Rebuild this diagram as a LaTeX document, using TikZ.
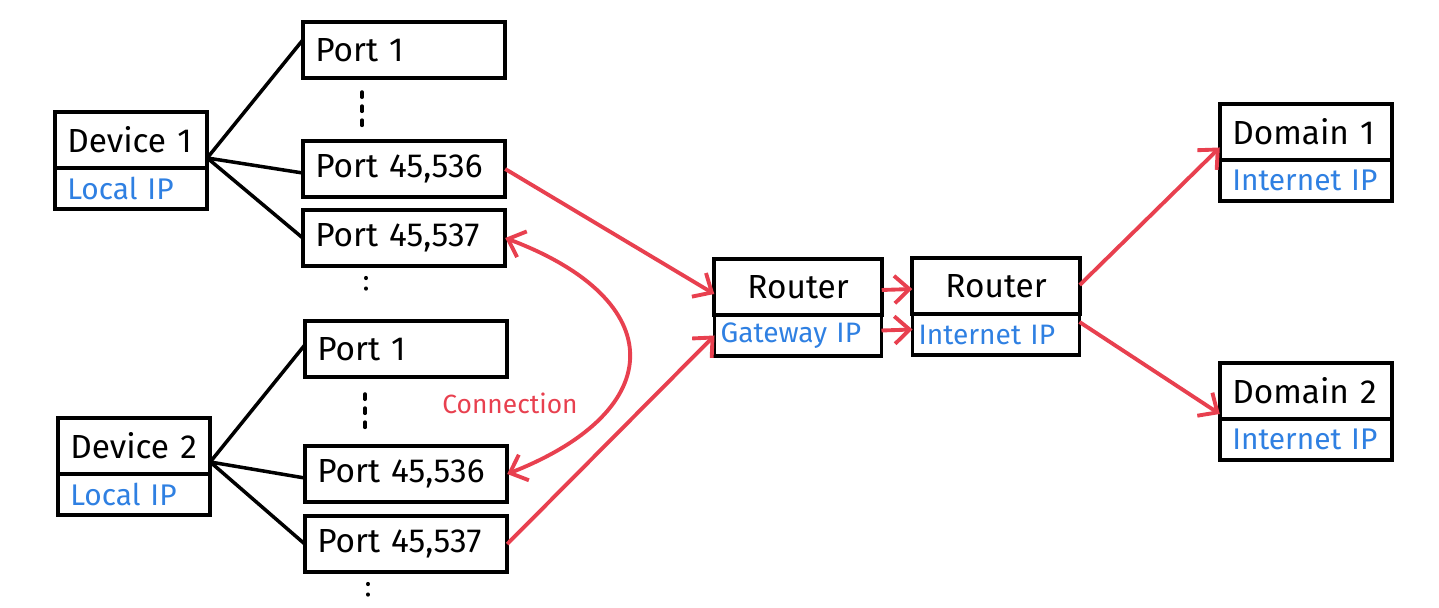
\documentclass[tikz,border=0pt]{standalone}
\usepackage{fontspec}
\setmainfont{Fira Sans}
\usetikzlibrary{arrows.meta}
\definecolor{netred}{HTML}{E8404F}
\definecolor{ipblue}{HTML}{2F80E2}
\newcommand{\boxfont}{\fontsize{19}{22}\selectfont}
\newcommand{\ipfont}{\fontsize{17}{20}\selectfont}
\tikzset{
  box/.style={draw, line width=2.2pt, outer sep=0pt, inner xsep=0.25cm,
    minimum height=1.12cm, align=left, font=\boxfont},
  portbox/.style={box, text width=3.55cm, minimum height=1.12cm},
  titlebox/.style={box, text width=2.55cm},
  ipbox/.style={box, minimum height=0.82cm, font=\ipfont, text=ipblue, anchor=north},
  link/.style={line width=2pt},
  flow/.style={line width=2.2pt, draw=netred, -{Straight Barb[length=3mm,width=5.5mm]}},
  vdots/.style={line width=2pt, line cap=round, dash pattern=on 3pt off 5pt},
  dotpair/.style={line width=2.4pt, line cap=round, dash pattern=on 0.01pt off 6pt}
}
\begin{document}
\begin{tikzpicture}[x=0.02cm, y=-0.02cm]
  \useasboundingbox (0,0) rectangle (1439,608);
  % device 1 and its ports
  \node[titlebox] (dev1) at (131,140) {Device 1};
  \node[ipbox, text width=2.55cm] (dev1ip) at (dev1.south) {Local IP};
  \node[portbox] (p11) at (404,50) {Port 1};
  \node[portbox] (p12) at (404,169) {Port 45,536};
  \node[portbox] (p13) at (404,238) {Port 45,537};
  % device 2 and its ports
  \node[titlebox] (dev2) at (134,446) {Device 2};
  \node[ipbox, text width=2.55cm] (dev2ip) at (dev2.south) {Local IP};
  \node[portbox] (p21) at (406,349) {Port 1};
  \node[portbox] (p22) at (406,474) {Port 45,536};
  \node[portbox] (p23) at (406,544) {Port 45,537};
  % routers
  \node[box, text width=2.85cm, align=center] (r1) at (798,287) {Router};
  \node[ipbox, text width=3.1cm, inner xsep=0.12cm, font=\fontsize{16}{19}\selectfont] (r1ip) at (r1.south) {Gateway IP};
  \node[box, text width=2.85cm, align=center] (r2) at (996,286) {Router};
  \node[ipbox, text width=3.1cm, inner xsep=0.12cm, font=\fontsize{16}{19}\selectfont] (r2ip) at (r2.south) {Internet IP};
  % domains
  \node[titlebox, text width=2.95cm] (dom1) at (1306,132) {Domain 1};
  \node[ipbox, text width=2.95cm] (dom1ip) at (dom1.south) {Internet IP};
  \node[titlebox, text width=2.95cm] (dom2) at (1306,391) {Domain 2};
  \node[ipbox, text width=2.95cm] (dom2ip) at (dom2.south) {Internet IP};

  \coordinate (hub1) at ([yshift=0.2cm]dev1.south east);
  \coordinate (hub2) at ([yshift=0.24cm]dev2.south east);
  \draw[link] (hub1) -- ([yshift=0.2cm]p11.west);
  \draw[link] (hub1) -- ([yshift=-0.08cm]p12.west);
  \draw[link] (hub1) -- (p13.west);
  \draw[link] (hub2) -- ([yshift=0.08cm]p21.west);
  \draw[link] (hub2) -- ([yshift=-0.08cm]p22.west);
  \draw[link] (hub2) -- (p23.west);

  \draw[vdots] (362,92) -- (362,130);
  \draw[dotpair] (366,278) -- (366,292);
  \draw[vdots] (365,394) -- (365,436);
  \draw[dotpair] (368,584) -- (368,598);

  \draw[flow] (p12.east) -- ([yshift=-0.14cm]r1.west);
  \draw[flow] (p23.east) -- (r1ip.west);
  \draw[flow] ([yshift=-0.06cm]r1.east) -- ([yshift=-0.06cm]r2.west);
  \draw[flow] ([yshift=0.1cm]r1ip.east) -- ([yshift=0.1cm]r2ip.west);
  \draw[flow] ([yshift=0.02cm]r2.east) -- ([yshift=0.25cm]dom1.south west);
  \draw[flow] ([yshift=-0.16cm]r2ip.north east) -- ([yshift=0.1cm]dom2.south west);
  \draw[flow, {Straight Barb[length=3mm,width=5.5mm]}-{Straight Barb[length=3mm,width=5.5mm]}]
    (p13.east) .. controls (670,300) and (670,410) .. (p22.east);
  \node[text=netred, font=\fontsize{15}{17}\selectfont] (conn) at (510,403) {Connection};
\end{tikzpicture}
\end{document}
